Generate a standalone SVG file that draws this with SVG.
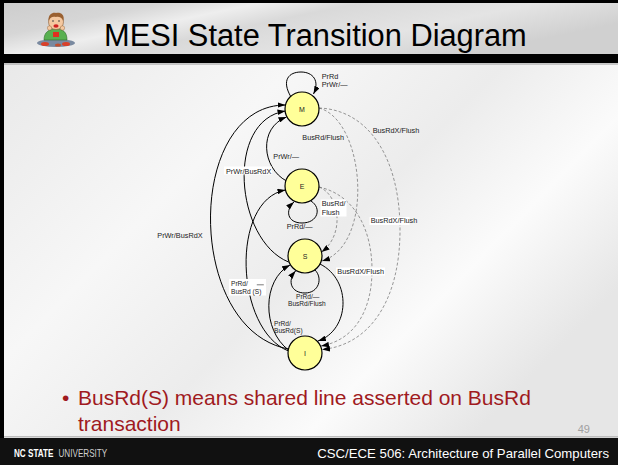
<svg xmlns="http://www.w3.org/2000/svg" width="618" height="465" viewBox="0 0 618 465">
  <defs>
    <linearGradient id="hdrBg" x1="0" y1="0" x2="1" y2="0.4">
      <stop offset="0" stop-color="#cdcdcd"/>
      <stop offset="0.22" stop-color="#d6d6d6"/>
      <stop offset="0.36" stop-color="#eeeeee"/>
      <stop offset="0.5" stop-color="#d9d9d9"/>
      <stop offset="0.75" stop-color="#e4e4e4"/>
      <stop offset="1" stop-color="#d0d0d0"/>
    </linearGradient>
    <linearGradient id="bodyBg" x1="0" y1="0" x2="1" y2="0.6">
      <stop offset="0" stop-color="#e9e9e9"/>
      <stop offset="0.35" stop-color="#f7f7f7"/>
      <stop offset="0.6" stop-color="#ececec"/>
      <stop offset="0.8" stop-color="#fbfbfb"/>
      <stop offset="1" stop-color="#e6e6e6"/>
    </linearGradient>
    <marker id="ah" viewBox="0 0 10 7" refX="10" refY="3.5" markerWidth="8" markerHeight="5.6" markerUnits="userSpaceOnUse" orient="auto">
      <path d="M0,0 L10,3.5 L0,7 z" fill="#000"/>
    </marker>
    <style>
      .state { fill: #ffff99; stroke: #000; stroke-width: 1.2; }
      .sname { font-family: "Liberation Sans", Arial, sans-serif; font-size: 7px; fill: #222; text-anchor: middle; }
      .lbl { font-family: "Liberation Sans", Arial, sans-serif; font-size: 7.3px; fill: #222; }
      .lbl2 { font-family: "Liberation Sans", Arial, sans-serif; font-size: 6.6px; fill: #222; }
      .solid { fill: none; stroke: #000; stroke-width: 1; marker-end: url(#ah); }
      .dash { fill: none; stroke: #555; stroke-width: 0.6; stroke-dasharray: 3 2; marker-end: url(#ah); }
      .box { fill: #fff; }
      .foot { font-family: "Liberation Sans", Arial, sans-serif; font-size: 11px; }
    </style>
  </defs>

  <!-- slide frame -->
  <rect x="0" y="0" width="618" height="465" fill="#000"/>
  <rect x="4" y="3" width="614" height="51" fill="url(#hdrBg)"/>
  <rect x="4" y="63" width="614" height="375" fill="url(#bodyBg)"/>
  <rect x="4" y="63" width="614" height="2" fill="#9a9a9a" opacity="0.5"/>
  <rect x="4" y="436" width="614" height="1.5" fill="#bdbdbd"/>
  <rect x="0" y="438" width="618" height="27" fill="#111"/>

  <!-- header icon: child playing with puzzle pieces -->
  <g id="icon">
    <ellipse cx="56" cy="43" rx="19" ry="4" fill="#7a8aa0"/>
    <ellipse cx="45" cy="44" rx="4" ry="2" fill="#d8402a"/>
    <ellipse cx="66" cy="44" rx="4" ry="2" fill="#d8402a"/>
    <ellipse cx="58" cy="45" rx="3" ry="1.6" fill="#c05030"/>
    <path d="M44,40 C44,32 49,29 56,29 C63,29 67,32 67,40 Z" fill="#58b050" stroke="#2e6a2a" stroke-width="0.6"/>
    <rect x="53" y="32" width="6" height="5" fill="#e03020"/>
    <circle cx="56" cy="22" r="7.5" fill="#f4c8a0" stroke="#8a5a30" stroke-width="0.6"/>
    <path d="M48.5,21 C48,13 54,12 56,13 C60,12 65,14 63.5,21 C62,17 58,16 56,17 C53,16 50,17 48.5,21 Z" fill="#9a6030"/>
    <ellipse cx="56" cy="26" rx="2.6" ry="1.8" fill="#d02020"/>
    <circle cx="53" cy="21" r="0.8" fill="#333"/>
    <circle cx="59" cy="21" r="0.8" fill="#333"/>
    <circle cx="62.5" cy="28" r="2.2" fill="#f4c8a0" stroke="#8a5a30" stroke-width="0.4"/>
    <circle cx="49.5" cy="28" r="2.2" fill="#f4c8a0" stroke="#8a5a30" stroke-width="0.4"/>
  </g>

  <!-- title -->
  <text x="104" y="45.5" font-family="Liberation Sans, Arial, sans-serif" font-size="30.8" fill="#000">MESI State Transition Diagram</text>

  <!-- connectors -->
  <g id="connectors">
    <!-- self loops -->
    <path class="solid" d="M291,97 C281,80 289,72 301,72 C313,72 320,81 313.5,94"/>
    <path class="solid" d="M311,201 C322,208 318,223 302,223 C287,223 285,210 294,202"/>
    <path class="solid" d="M315,270 C323,278 319,293 305,293 C291,293 287,281 295.5,271"/>
    <!-- E to M: PrWr/— -->
    <path class="solid" d="M286.5,181 C262,168 258,128 286.5,117"/>
    <!-- S to M: PrWr/BusRdX -->
    <path class="solid" d="M288.5,262 C235,240 225,120 285.5,111"/>
    <!-- I to M: PrWr/BusRdX -->
    <path class="solid" d="M288.5,349 C185,330 185,105 285.5,105"/>
    <!-- I to E: PrRd/BusRd(S̄) -->
    <path class="solid" d="M288.5,351 C235,330 230,200 285.5,190"/>
    <!-- I to S: PrRd/BusRd(S) -->
    <path class="solid" d="M288.5,350 C262,330 262,280 290,265"/>
    <!-- S to I: BusRdX/Flush -->
    <path class="solid" d="M320,264 C352,280 350,330 318,341"/>
    <!-- bus-induced transitions -->
    <path class="dash" d="M319,108 C365,120 375,245 322,261"/>
    <path class="dash" d="M319,108 C370,110 400,160 400,230 C400,300 370,345 322,349.5"/>
    <path class="dash" d="M319,187 C340,195 345,235 321.5,252"/>
    <path class="dash" d="M319,187 C355,195 372,230 372,270 C372,310 355,340 321,346"/>
  </g>

  <!-- transition labels -->
  <g id="labels">
    <text class="lbl" x="321.7" y="79">PrRd</text>
    <text class="lbl" x="321.7" y="86.7">PrWr/—</text>
    <text class="lbl" x="302.3" y="140">BusRd/Flush</text>
    <text class="lbl" x="372.7" y="132.7">BusRdX/Flush</text>
    <text class="lbl" x="273.3" y="159.3">PrWr/—</text>
    <rect class="box" x="224" y="166.5" width="48" height="8"/>
    <text class="lbl" x="226" y="173.5">PrWr/BusRdX</text>
    <rect class="box" x="320.5" y="199.5" width="26" height="17"/>
    <text class="lbl" x="321.7" y="206">BusRd/</text>
    <text class="lbl" x="321.7" y="215">Flush</text>
    <text class="lbl" x="286.7" y="229">PrRd/—</text>
    <rect class="box" x="369.5" y="217" width="40" height="8"/>
    <text class="lbl" x="370.7" y="223.3">BusRdX/Flush</text>
    <text class="lbl" x="157.3" y="238.3">PrWr/BusRdX</text>
    <rect class="box" x="336" y="267.5" width="49" height="8"/>
    <text class="lbl" x="337.3" y="274">BusRdX/Flush</text>
    <rect class="box" x="229" y="279" width="37" height="16.5"/>
    <text class="lbl2" x="231" y="286">PrRd/</text>
    <text class="lbl2" x="231" y="293.5">BusRd (S)</text>
    <line x1="256.8" y1="284.8" x2="263.8" y2="284.8" stroke="#222" stroke-width="0.6"/>
    <text class="lbl2" x="296" y="298.8">PrRd/—</text>
    <text class="lbl2" x="288" y="306.3">BusRd/Flush</text>
    <text class="lbl2" x="274" y="325.5">PrRd/</text>
    <text class="lbl2" x="274" y="333">BusRd(S)</text>
  </g>

  <!-- states -->
  <g id="state-M"><circle class="state" cx="302" cy="109" r="17"/><text class="sname" x="302" y="111.5">M</text></g>
  <g id="state-E"><circle class="state" cx="302" cy="186" r="17"/><text class="sname" x="302" y="188.5">E</text></g>
  <g id="state-S"><circle class="state" cx="305" cy="256" r="17"/><text class="sname" x="305" y="258.5">S</text></g>
  <g id="state-I"><circle class="state" cx="305" cy="353" r="17"/><text class="sname" x="305" y="355.5">I</text></g>

  <!-- bullet text -->
  <g font-family="Liberation Sans, Arial, sans-serif" font-size="21" fill="#a01a1e">
    <text x="62" y="405">•</text>
    <text x="78" y="405">BusRd(S) means shared line asserted on BusRd</text>
    <text x="78" y="431">transaction</text>
  </g>
  <text x="590" y="433" font-family="Liberation Sans, Arial, sans-serif" font-size="11" fill="#a0a0a0" text-anchor="end">49</text>

  <!-- footer (condensed wordmark) -->
  <text class="foot" transform="translate(14,457) scale(0.74,1)" fill="#fff" font-weight="bold">NC STATE</text>
  <text class="foot" transform="translate(58.5,457) scale(0.74,1)" fill="#d0d0d0">UNIVERSITY</text>
  <text x="609" y="458" font-family="Liberation Sans, Arial, sans-serif" font-size="13.2" fill="#fff" text-anchor="end">CSC/ECE 506: Architecture of Parallel Computers</text>
</svg>
